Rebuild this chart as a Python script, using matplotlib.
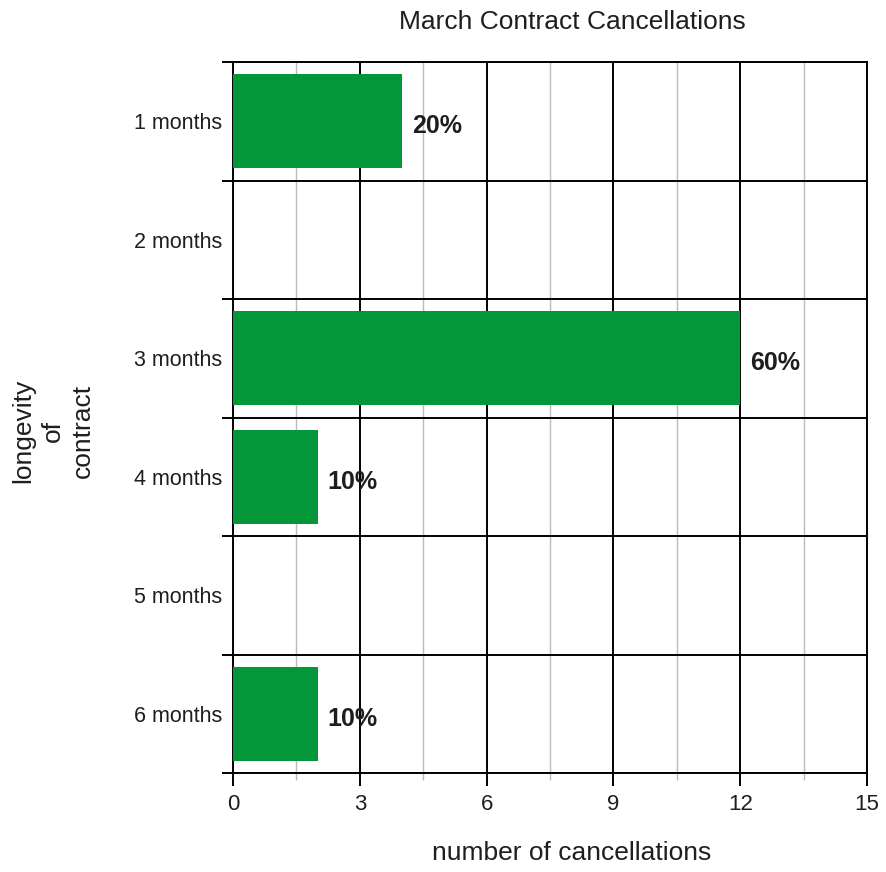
import numpy as np
import matplotlib.pyplot as plt
from matplotlib.ticker import MultipleLocator, FixedLocator, NullFormatter

plt.rcParams['font.family'] = ['Liberation Sans', 'DejaVu Sans']

# cancellations by contract length
categories = ["1 months", "2 months", "3 months", "4 months", "5 months", "6 months"]
cancellations = [4, 0, 12, 2, 0, 2]
share_labels = ["20%", "", "60%", "10%", "", "10%"]

green = '#03973a'
ink = '#1e1e1e'

fig = plt.figure(figsize=(8.87, 8.72), dpi=100)
ax = fig.add_axes([0.2627, 0.1135, 0.7148, 0.8154])

ypos = np.arange(len(categories))
ax.barh(ypos, cancellations, height=0.79, color=green, zorder=3)

for y, v, lab in zip(ypos, cancellations, share_labels):
    if lab:
        ax.text(v + 0.24, y + 0.04, lab, va='center', ha='left', fontsize=18,
                fontweight='bold', color=ink, zorder=4)

ax.set_xlim(0, 15)
ax.set_ylim(len(categories) - 0.5, -0.5)

# x axis: black majors every 3, gray minors between
ax.xaxis.set_major_locator(MultipleLocator(3))
ax.xaxis.set_minor_locator(FixedLocator([1.5, 4.5, 7.5, 10.5, 13.5]))
ax.grid(which='major', axis='x', color='black', lw=1.4, zorder=1)
ax.grid(which='minor', axis='x', color='#bbbbbb', lw=1.0, zorder=1)
ax.tick_params(axis='x', which='major', length=9, width=1.4, color='black',
               labelsize=16, pad=6, labelcolor=ink)
ax.tick_params(axis='x', which='minor', length=5, width=1.0, color='#bbbbbb')

# y axis: labels at row centres, separator lines at row boundaries
ax.set_yticks(ypos)
ax.set_yticklabels(categories)
ax.yaxis.set_minor_locator(FixedLocator(np.arange(-0.5, len(categories), 1.0)))
ax.yaxis.set_minor_formatter(NullFormatter())
ax.grid(which='minor', axis='y', color='black', lw=1.4, zorder=1)
ax.tick_params(axis='y', which='major', length=0, labelsize=15.5, pad=8,
               labelcolor=ink)
ax.tick_params(axis='y', which='minor', length=8, width=1.4, color='black')

for s in ax.spines.values():
    s.set_linewidth(1.4)
    s.set_color('black')

fig.text(572 / 887, 1 - 22 / 872, "March Contract Cancellations", fontsize=19,
         ha='center', va='center', color=ink)
fig.text(572 / 887, 1 - 853 / 872, "number of cancellations", fontsize=19,
         ha='center', va='center', color=ink)
fig.text(53 / 887, 1 - 431 / 872, "longevity\nof\ncontract", fontsize=19,
         ha='center', va='center', rotation=90, color=ink,
         multialignment='center', linespacing=1.3)

fig.savefig("out.png", dpi=100)
